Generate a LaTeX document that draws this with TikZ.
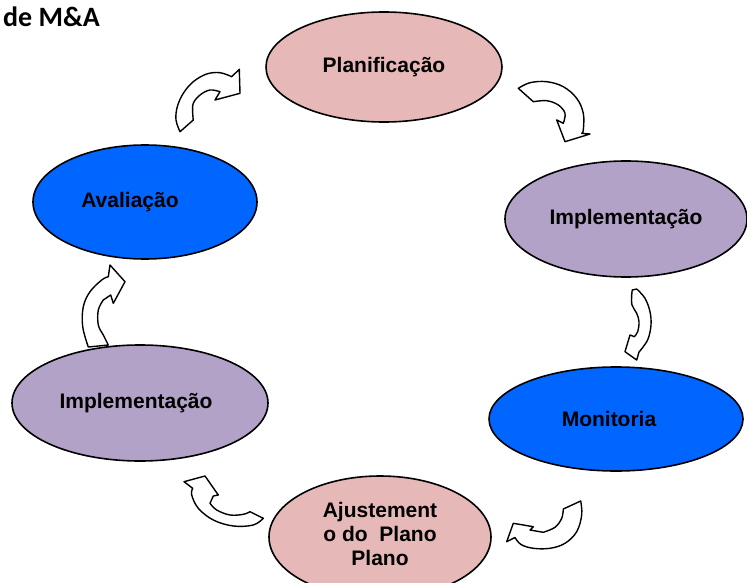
\documentclass[tikz,border=0pt]{standalone}
\usepackage{fontspec}
\setmainfont{Liberation Sans}
\newfontfamily\titlefont{Carlito}
\usetikzlibrary{shapes.geometric}
\definecolor{pinkfill}{HTML}{E6B9B8}
\definecolor{purplefill}{HTML}{B3A2C7}
\definecolor{bluefill}{HTML}{0066FF}
\begin{document}
\begin{tikzpicture}[x=1pt,y=-1pt,
  stage/.style={ellipse, draw=black, line width=1.6pt, inner sep=0pt,
    font=\fontsize{21}{24}\selectfont\bfseries, align=center},
  cyclearrow/.style={draw=black, fill=white, line width=1.4pt, line join=round}]
\clip (0,0) rectangle (747,583);
\fill[white] (0,0) rectangle (747,583);

% title
\node[anchor=base west, inner sep=0pt, font=\titlefont\fontsize{28}{30}\selectfont\bfseries] (title) at (3,27) {de M\&A};

% curved block arrows
% A: Avaliacao -> Planificacao
\draw[cyclearrow] plot[smooth, tension=0.6] coordinates {(180,131.7) (176,120) (177.3,106.7) (183.3,93.3) (193.3,81.7) (206.7,74) (220,72.7) (231.7,76.7)}
  -- (239.3,69.3) -- (240,93.3) -- (215,100)
  -- plot[smooth, tension=0.6] coordinates {(220,91.7) (210,90) (200,95) (193.3,103.3) (192.7,113.3) (193.3,120)} -- cycle;
% B: Planificacao -> Implementacao
\draw[cyclearrow] plot[smooth, tension=0.6] coordinates {(518.3,88.3) (530,82.7) (546.7,81.7) (563.3,86.7) (576.7,98.3) (583.3,113.3) (583.3,130) (581.7,133.3)}
  -- (590,134) -- (565,141.7) -- (556.7,120)
  -- plot[smooth, tension=0.6] coordinates {(563.3,123.3) (565,113.3) (558.3,105) (546.7,100.7) (533.3,101.7)} -- cycle;
% C: Implementacao -> Monitoria
\draw[cyclearrow] plot[smooth, tension=0.6] coordinates {(636.7,289) (645,298.3) (650,311.7) (651,325) (648.3,338.3) (643.3,346.7) (639,352)}
  -- (636.7,360) -- (625,351.7) -- (630,335)
  -- plot[smooth, tension=0.6] coordinates {(634.3,336.7) (637.7,331.7) (639,321.7) (636.7,313.3) (632,305) (631.7,295) (632.3,290)} -- cycle;
% D: Monitoria -> Ajustemento
\draw[cyclearrow] (563.3,509) -- plot[smooth, tension=0.6] coordinates {(580.7,501) (581.7,515) (576.7,531.7) (565,543.3) (550,548.3) (533.3,548.3) (521,544.5) (515,537.5)}
  -- (506.7,541.7) -- (513.3,523.3) -- (533.3,526.7) -- (530,530)
  -- plot[smooth, tension=0.6] coordinates {(543.3,532.3) (555,527.3) (561.7,518.3) (563.3,509)} -- cycle;
% E: Ajustemento -> Implementacao (left)
\draw[cyclearrow] (184,481.7) -- (205,476) -- (218.3,495) -- (213.3,496)
  -- plot[smooth, tension=0.6] coordinates {(210,503.3) (216.7,510) (230,515) (243.3,514.3) (250,511.7)}
  -- plot[smooth, tension=0.6] coordinates {(263.3,518.3) (253.3,525) (233.3,526) (213.3,520) (198.3,508.3) (191.7,495) (192.7,488.3)} -- cycle;
% F: Implementacao (left) -> Avaliacao
\draw[cyclearrow] plot[smooth, tension=0.6] coordinates {(88.3,347) (82.7,326.7) (83.3,306.7) (90,291.7) (101.7,280) (108.3,276.7)}
  -- (110,265) -- (125,281.7) -- (113.3,303.3) -- (110.7,295)
  -- plot[smooth, tension=0.6] coordinates {(103.3,300) (98.3,310) (98.3,325) (103.3,335) (108.3,345)} -- cycle;

% stages
\node[stage, fill=pinkfill, minimum width=236pt, minimum height=110pt] (plan) at (384,67) {Planificação};
\node[stage, fill=purplefill, minimum width=242pt, minimum height=116pt] (impR) at (626,219) {Implementação};
\node[stage, fill=bluefill, minimum width=254pt, minimum height=104pt] (moni) at (616,419) {\hspace*{-14pt}Monitoria};
\node[stage, fill=pinkfill, minimum width=222pt, minimum height=122pt] (ajus) at (380,537) {\raisebox{3pt}{\begin{tabular}{@{}c@{}}Ajustement\\o do \ Plano\\Plano\end{tabular}}};
\node[stage, fill=purplefill, minimum width=256pt, minimum height=116pt] (impL) at (140,403) {\hspace*{-8pt}Implementação};
\node[stage, fill=bluefill, minimum width=224pt, minimum height=114pt] (aval) at (145,202) {\hspace*{-30pt}Avaliação};
\end{tikzpicture}
\end{document}
